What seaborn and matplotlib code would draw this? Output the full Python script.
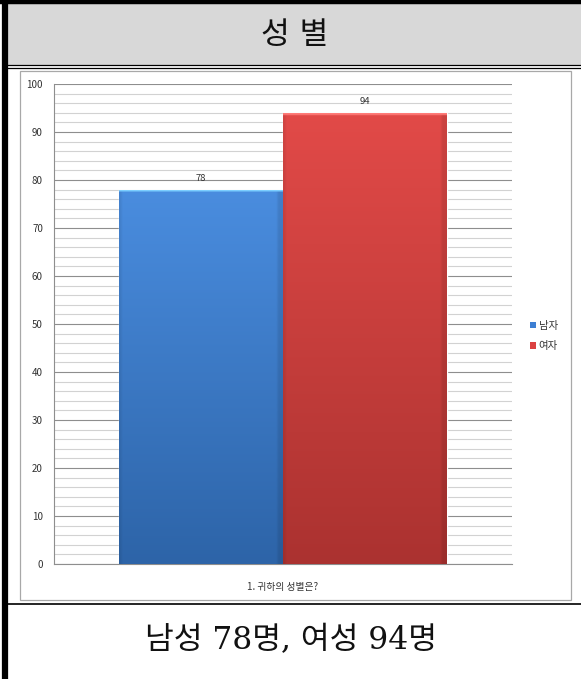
import numpy as np
import pandas as pd
import matplotlib
matplotlib.use("Agg")
import matplotlib.pyplot as plt
from matplotlib.patches import Rectangle
from matplotlib.lines import Line2D
import seaborn as sns

# -----------------------------
# data
# -----------------------------
question = ["1. 귀하의 성별은?"]
genders = ["남자", "여자"]
counts = [78, 94]
title_text = "성 별"
caption_text = "남성 78명, 여성 94명"

bar_colors = ["#3d7fd3", "#db4141"]
top_colors = ["#4a8ddf", "#e24a48"]
bottom_colors = ["#2d64a8", "#ab3230"]

df = pd.DataFrame({"문항": question * len(genders), "성별": genders, "응답수": counts})

sns.set_style("white")
plt.rcParams["font.family"] = ["Noto Sans CJK KR", "DejaVu Sans"]

W, H = 581, 679
fig = plt.figure(figsize=(W / 100, H / 100), dpi=100)


def fx(px):
    return px / W


def fy(py):
    return 1 - py / H


# -----------------------------
# table frame (header / chart / caption)
# -----------------------------
fig.patches.append(Rectangle((fx(7), fy(65)), fx(W - 7), fy(4) - fy(65),
                             transform=fig.transFigure, facecolor="#d8d8d8",
                             edgecolor="none", zorder=0))
fig.add_artist(Line2D([fx(0), 1], [fy(2), fy(2)], color="black", lw=3.2))
fig.add_artist(Line2D([fx(4.5), fx(4.5)], [fy(0), fy(H)], color="black", lw=4.5))
fig.add_artist(Line2D([fx(7), 1], [fy(65), fy(65)], color="black", lw=0.9))
fig.add_artist(Line2D([fx(7), 1], [fy(67.5), fy(67.5)], color="black", lw=0.9))
fig.add_artist(Line2D([fx(7), 1], [fy(604), fy(604)], color="black", lw=1.2))

fig.patches.append(Rectangle((fx(20), fy(600)), fx(571 - 20), fy(71) - fy(600),
                             transform=fig.transFigure, facecolor="white",
                             edgecolor="#a8a8a8", lw=0.9, zorder=1))

fig.text(fx(295), fy(35), title_text, ha="center", va="center",
         fontsize=22.5, fontweight="medium", family=["DejaVu Sans", "Noto Sans CJK KR"],
         color="#111111")
fig.text(fx(291), fy(641), caption_text, ha="center", va="center",
         fontsize=22.5, family=["DejaVu Serif", "Noto Sans CJK KR"],
         color="#111111")

# -----------------------------
# bar chart
# -----------------------------
ax = fig.add_axes([fx(54), fy(564), fx(512 - 54), fy(84) - fy(564)])
ax.set_zorder(2)
ax.patch.set_alpha(0)

sns.barplot(data=df, x="문항", y="응답수", hue="성별", palette=bar_colors,
            width=0.714, gap=0, ax=ax, legend=False, saturation=1)

ax.set_xlim(-0.5, 0.5)
ax.set_ylim(0, 100)
ax.set_yticks(np.arange(0, 101, 10))
ax.set_yticks(np.arange(0, 101, 2), minor=True)
ax.grid(True, which="major", axis="y", color="#8e8e8e", lw=0.8)
ax.grid(True, which="minor", axis="y", color="#d2d2d2", lw=0.8)
ax.set_axisbelow(True)

# gradient fill on each bar
for p, c_top, c_bot in zip(ax.patches, top_colors, bottom_colors):
    x0, w, h = p.get_x(), p.get_width(), p.get_height()
    t = np.linspace(0, 1, 300)[:, None]
    top = np.array(matplotlib.colors.to_rgb(c_top))
    bot = np.array(matplotlib.colors.to_rgb(c_bot))
    img = top[None, None, :] * (1 - t[:, :, None]) + bot[None, None, :] * t[:, :, None]
    img = np.repeat(img, 60, axis=1)
    # slightly darker at the sides, light bevel on top
    side = np.ones(60)
    side[:1] = 0.93
    side[-2:] = 0.9
    img = img * side[None, :, None]
    img[:2] = np.clip(top * 1.25 + 0.12, 0, 1)
    im = ax.imshow(img, extent=[x0, x0 + w, 0, h], aspect="auto",
                   origin="upper", zorder=3, interpolation="bilinear")
    im.set_clip_path(p)

ax.set_xlim(-0.5, 0.5)
ax.set_ylim(0, 100)

for cont in ax.containers:
    ax.bar_label(cont, padding=5, fontsize=6.8, color="#333333", zorder=4)

for s in ["top", "right"]:
    ax.spines[s].set_visible(False)
for s in ["left", "bottom"]:
    ax.spines[s].set_color("#8e8e8e")
    ax.spines[s].set_linewidth(0.8)

ax.tick_params(axis="y", which="major", direction="out", length=4,
               color="#8e8e8e", labelsize=7, labelcolor="#333333", pad=4)
ax.tick_params(axis="y", which="minor", length=0)
ax.tick_params(axis="x", which="major", length=0, labelsize=7,
               labelcolor="#333333", pad=13)
ax.set_xticks([-0.5, 0.5], minor=True)
ax.tick_params(axis="x", which="minor", direction="out", length=4,
               color="#8e8e8e")
ax.set_xlabel("")
ax.set_ylabel("")

handles = [Rectangle((0, 0), 1, 1, facecolor=c, edgecolor="none") for c in bar_colors]
leg = fig.legend(handles, genders, loc="center left",
                 bbox_to_anchor=(fx(525), fy(336)), frameon=False,
                 fontsize=7.5, handlelength=0.6, handleheight=0.6,
                 handletextpad=0.2, labelspacing=1.05, borderpad=0)
for t in leg.get_texts():
    t.set_color("#333333")

fig.savefig("out.png", dpi=100)
